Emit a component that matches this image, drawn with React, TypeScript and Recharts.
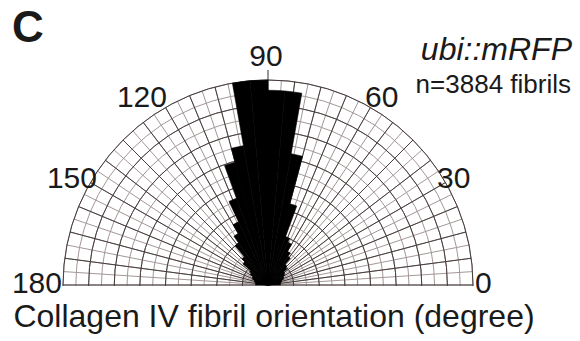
import React from 'react';
import { RadialBarChart, RadialBar, PolarAngleAxis, PolarRadiusAxis, PolarGrid } from 'recharts';

// 5-degree orientation bins (0..180)
const binLabels = [
  '0-5', '5-10', '10-15', '15-20', '20-25', '25-30', '30-35', '35-40', '40-45', '45-50',
  '50-55', '55-60', '60-65', '65-70', '70-75', '75-80', '80-85', '85-90', '90-95', '95-100',
  '100-105', '105-110', '110-115', '115-120', '120-125', '125-130', '130-135', '135-140', '140-145', '145-150',
  '150-155', '155-160', '160-165', '165-170', '170-175', '175-180',
];
// relative frequency (%) per bin
const binValues = [
  1.2, 1.2, 1.3, 1.4, 1.6, 1.7, 1.9, 2.0, 2.4, 2.6,
  3.4, 3.8, 4.6, 5.0, 8.2, 13.0, 19.0, 19.0, 20.0, 20.0,
  13.8, 12.4, 9.0, 6.8, 5.8, 5.0, 3.6, 3.2, 2.2, 2.0,
  1.7, 1.6, 1.4, 1.3, 1.2, 1.2,
];
const radiusMax = 20;
const angleTickLabels = ['0', '30', '60', '90', '120', '150', '180'];

const data = binLabels.map((bin, i) => ({ bin, value: binValues[i] }));

const W = 580;
const CX = 268;
const CY = 285;
const R = 205;
// recharts draws each centric sector one band clockwise of its band start; offset the angle range by one band
const BAND = 180 / binLabels.length;

const RADIAL_DIV = 48;
const RING_DIV = 16;
const fineAngles = Array.from({ length: RADIAL_DIV + 1 }, (_, i) => (i * 180) / RADIAL_DIV);
const coarseAngles = fineAngles.filter((_, i) => i % 2 === 0);
const fineRadii = Array.from({ length: RING_DIV }, (_, i) => ((i + 1) * R) / RING_DIV);
const coarseRadii = fineRadii.filter((_, i) => i % 2 === 1);

const FONT = '"Liberation Sans", Arial, Helvetica, sans-serif';
const TXT = '#1a1a1a';

export default function App() {
  return (
    <div style={{ position: 'absolute', left: 0, top: 0, width: 580, height: 341, background: '#fff', fontFamily: FONT }}>
      <div style={{ position: 'absolute', left: 0, top: 0 }}>
        <RadialBarChart
          width={W}
          height={CY + 1}
          data={data}
          cx={CX}
          cy={CY}
          innerRadius={0}
          outerRadius={R}
          startAngle={BAND}
          endAngle={180 + BAND}
          layout="centric"
          barCategoryGap={0}
          barGap={0}
          margin={{ top: 0, right: 0, bottom: 0, left: 0 }}
        >
          <PolarGrid gridType="circle" polarAngles={fineAngles} polarRadius={fineRadii} stroke="#a39797" strokeWidth={1} />
          <PolarGrid gridType="circle" polarAngles={coarseAngles} polarRadius={coarseRadii} stroke="#463d3d" strokeWidth={1} />
          <PolarAngleAxis type="category" dataKey="bin" tick={false} axisLine={false} />
          <PolarRadiusAxis type="number" domain={[0, radiusMax]} tick={false} axisLine={false} />
          <RadialBar dataKey="value" fill="#000" stroke="#000" strokeWidth={0.6} isAnimationActive={false} />
        </RadialBarChart>
      </div>
      <svg width={580} height={341} style={{ position: 'absolute', left: 0, top: 0, pointerEvents: 'none' }}>
        <line x1={CX} y1={CY - R} x2={CX} y2={CY - R - 10} stroke="#333" strokeWidth={1} />
        <text x={12} y={42} fontSize={44} fontWeight="bold" fill={TXT} fontFamily={FONT}>C</text>
        <text x={266} y={66} fontSize={30} textAnchor="middle" fill={TXT} fontFamily={FONT}>{angleTickLabels[3]}</text>
        <text x={167} y={107} fontSize={30} textAnchor="end" fill={TXT} fontFamily={FONT}>{angleTickLabels[4]}</text>
        <text x={365} y={107} fontSize={30} textAnchor="start" fill={TXT} fontFamily={FONT}>{angleTickLabels[2]}</text>
        <text x={97} y={188} fontSize={30} textAnchor="end" fill={TXT} fontFamily={FONT}>{angleTickLabels[5]}</text>
        <text x={437} y={188} fontSize={30} textAnchor="start" fill={TXT} fontFamily={FONT}>{angleTickLabels[1]}</text>
        <text x={62} y={293} fontSize={30} textAnchor="end" fill={TXT} fontFamily={FONT}>{angleTickLabels[6]}</text>
        <text x={475} y={293} fontSize={30} textAnchor="start" fill={TXT} fontFamily={FONT}>{angleTickLabels[0]}</text>
        <text x={572} y={60} fontSize={32} fontStyle="italic" textAnchor="end" fill={TXT} fontFamily={FONT}>ubi::mRFP</text>
        <text x={571} y={93} fontSize={26} textAnchor="end" fill={TXT} fontFamily={FONT}>n=3884 fibrils</text>
        <text x={274} y={327} fontSize={32} textAnchor="middle" fill={TXT} fontFamily={FONT}>Collagen IV fibril orientation (degree)</text>
      </svg>
    </div>
  );
}
